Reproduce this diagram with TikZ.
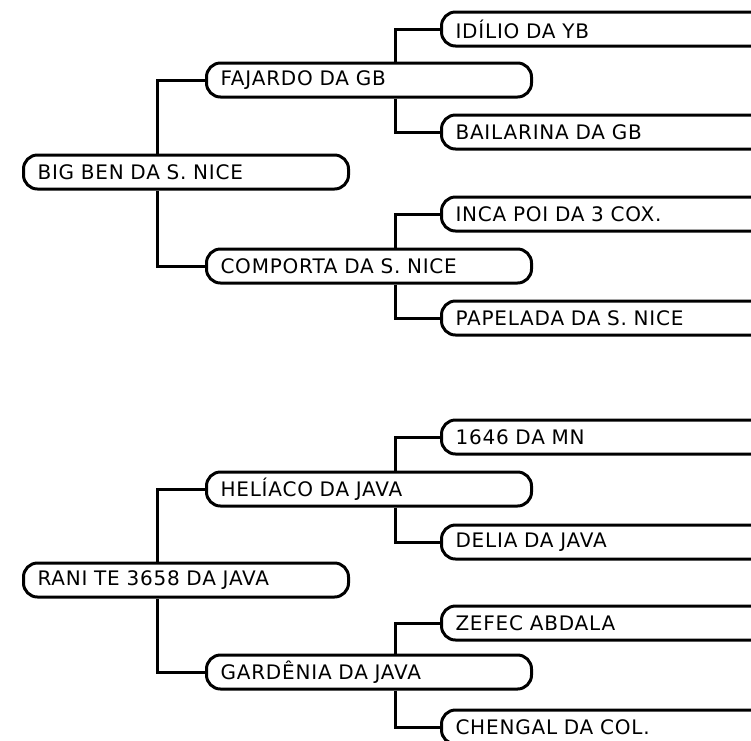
\documentclass[tikz,border=0pt]{standalone}
\usepackage{fontspec}
\setmainfont{DejaVu Sans}[LetterSpace=4, WordSpace=1.4]
\usetikzlibrary{positioning}
\tikzstyle{dogbox}=[rectangle, rounded corners=14pt, draw=black, fill=white,
  line width=3pt, anchor=west, minimum height=34pt, text width=297pt,
  inner xsep=14pt, align=left, font=\fontsize{20}{20}\selectfont]
\tikzstyle{leafbox}=[dogbox, text width=330pt]
\tikzstyle{link}=[line width=3pt, black]

\begin{document}
\begin{tikzpicture}[x=1pt, y=-1pt]
        \useasboundingbox (0,0) rectangle (751,740);
        \clip (0,0) rectangle (751,740);
        % first pedigree
        \node[dogbox] (bigben) at (22,172) {BIG BEN DA S. NICE};
        \node[dogbox] (fajardo) at (205,80) {FAJARDO DA GB};
        \node[dogbox] (comporta) at (205,266) {COMPORTA DA S. NICE};
        \node[leafbox] (idilio) at (440,29) {IDÍLIO DA YB};
        \node[leafbox] (bailarina) at (440,132) {BAILARINA DA GB};
        \node[leafbox] (incapoi) at (440,214) {INCA POI DA 3 COX.};
        \node[leafbox] (papelada) at (440,318) {PAPELADA DA S. NICE};
        \draw[link] ([xshift=135pt]bigben.north west) |- (fajardo.west);
        \draw[link] ([xshift=135pt]bigben.south west) |- (comporta.west);
        \draw[link] ([xshift=190pt]fajardo.north west) |- (idilio.west);
        \draw[link] ([xshift=190pt]fajardo.south west) |- (bailarina.west);
        \draw[link] ([xshift=190pt]comporta.north west) |- (incapoi.west);
        \draw[link] ([xshift=190pt]comporta.south west) |- (papelada.west);
        % second pedigree
        \node[dogbox] (rani) at (22,580) {RANI TE 3658 DA JAVA};
        \node[dogbox] (heliaco) at (205,489) {HELÍACO DA JAVA};
        \node[dogbox] (gardenia) at (205,672) {GARDÊNIA DA JAVA};
        \node[leafbox] (mn) at (440,437) {1646 DA MN};
        \node[leafbox] (delia) at (440,542) {DELIA DA JAVA};
        \node[leafbox] (zefec) at (440,623) {ZEFEC ABDALA};
        \node[leafbox] (chengal) at (440,727) {CHENGAL DA COL.};
        \draw[link] ([xshift=135pt]rani.north west) |- (heliaco.west);
        \draw[link] ([xshift=135pt]rani.south west) |- (gardenia.west);
        \draw[link] ([xshift=190pt]heliaco.north west) |- (mn.west);
        \draw[link] ([xshift=190pt]heliaco.south west) |- (delia.west);
        \draw[link] ([xshift=190pt]gardenia.north west) |- (zefec.west);
        \draw[link] ([xshift=190pt]gardenia.south west) |- (chengal.west);
      \end{tikzpicture}
\end{document}
